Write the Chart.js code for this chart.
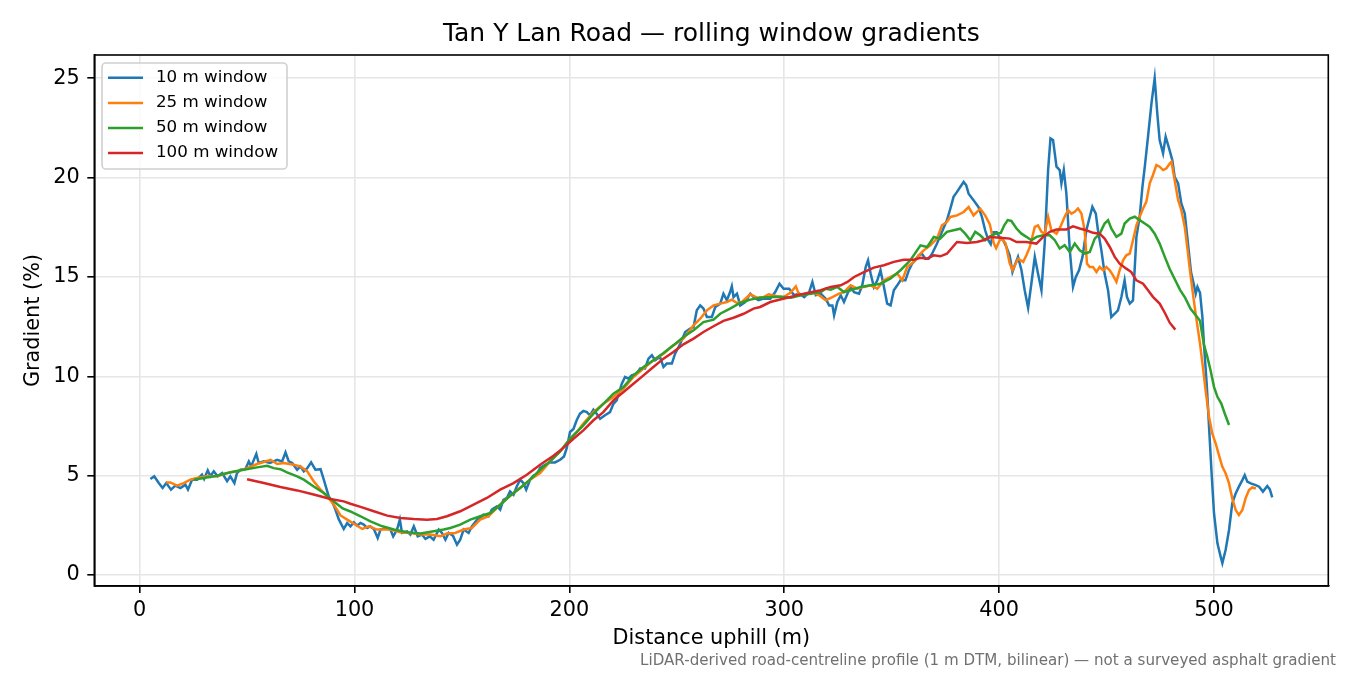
<!DOCTYPE html>
<html>
<head>
<meta charset="utf-8">
<title>Tan Y Lan Road — rolling window gradients</title>
<script src="https://cdn.jsdelivr.net/npm/chart.js@4.4.1/dist/chart.umd.min.js"></script>
<style>
  html, body { margin: 0; padding: 0; background: #fff; }
  #wrap { width: 1350px; height: 675px; }
</style>
</head>
<body>
<div id="wrap"><canvas id="gradientChart" width="1350" height="675"></canvas></div>
<script>
// [distance uphill (m), gradient (%)]
const win10 = [
  [5,4.83],[6.8,4.97],[8.9,4.63],[10.7,4.38],[12.4,4.63],[14.6,4.3],[16.6,4.5],[19,4.38],[21.3,4.55],[22.5,4.3],
  [24.4,4.8],[26.7,4.8],[29,5.05],[30,4.83],[31.7,5.27],[32.9,4.97],[34.5,5.22],[36.3,4.97],[38.4,5.13],[40.7,4.72],
  [42.2,4.97],[44.1,4.63],[45.3,5.13],[46.9,5.3],[49.2,5.33],[50.8,5.72],[51.9,5.47],[54.3,6.1],[55.4,5.64],[57.8,5.72],
  [60.6,5.64],[62.4,5.72],[64,5.8],[66.3,5.72],[67.9,6.17],[69.4,5.72],[71,5.64],[73.3,5.3],[74.8,5.47],[76.4,5.22],
  [78,5.38],[79.8,5.67],[81.8,5.3],[84.2,5.33],[85.7,4.8],[88,3.96],[89.6,3.7],[91.1,3.3],[92.7,2.8],[95,2.32],
  [96.6,2.62],[98.1,2.45],[99.7,2.65],[101.2,2.49],[102.8,2.62],[104.3,2.54],[105.9,2.37],[107.4,2.45],[109,2.32],[110.8,1.87],
  [112.1,2.29],[114.4,2.37],[116.7,2.29],[118,1.95],[119.8,2.29],[121.1,2.79],[122.1,2.12],[124.5,2.2],[126,2.04],[127.6,2.45],
  [129.4,1.95],[131.4,2.04],[133,1.82],[135,1.95],[136.8,1.78],[139.2,2.29],[140.7,2.12],[142.3,1.78],[143.8,2.12],[145.8,1.98],
  [147.7,1.53],[149.2,1.78],[150.8,2.29],[153.1,2.12],[154.6,2.45],[157,2.79],[158.5,2.87],[160,3.04],[162.4,2.96],[163.9,3.29],
  [166.3,3.46],[167.8,3.29],[169.3,3.79],[170.9,3.88],[172.4,4.21],[174,4.04],[175.5,4.46],[177.1,4.8],[178.6,4.63],[179.9,4.3],
  [181.7,4.8],[183.3,5.0],[184.8,5.05],[186.4,5.39],[188.7,5.55],[191,5.67],[193.3,5.67],[195.7,5.8],[197.5,5.97],[198.8,6.4],
  [200.3,7.2],[201.9,7.35],[203.4,7.79],[204.9,8.12],[206.5,8.26],[208.1,8.2],[209.6,8.04],[211.2,8.32],[212.7,8.12],[214.3,7.87],
  [216.6,8.04],[218.9,8.2],[220.5,8.62],[222,8.79],[224.4,9.63],[225.9,9.97],[227.5,9.88],[229,10.05],[231.4,10.13],[232.9,10.39],
  [235.2,10.39],[236.8,10.89],[238.4,11.06],[239.9,10.81],[242.2,10.97],[243.8,10.47],[245.3,10.64],[247.7,10.64],[249.2,11.14],[251.6,11.64],
  [253.9,12.23],[256.2,12.4],[257.8,12.48],[259.3,13.32],[260.9,13.57],[262.4,13.41],[264,12.99],[266.3,12.99],[267.9,13.49],[270.2,13.66],
  [271.7,14.16],[273.3,13.83],[274.8,14.24],[275.6,14.53],[276.4,13.99],[278,14.16],[279.5,13.57],[281.8,13.74],[284.2,14.16],[285.7,13.99],
  [288,13.83],[290.4,13.91],[293.5,13.91],[295.8,14.24],[297.8,14.66],[299.7,14.41],[302.3,14.41],[304.6,14.08],[307,14.16],[309.3,13.99],
  [311.6,14.24],[313.1,14.75],[314.7,14.08],[317,14.16],[319.3,13.91],[320.9,13.57],[322.4,13.57],[323.2,13.07],[324.7,13.74],[326.3,14.08],
  [327.8,13.74],[329.4,14.16],[330.9,14.5],[332.5,14.24],[334.8,14.16],[336.3,14.58],[337.9,15.5],[339,15.84],[340.2,15.17],[341.7,14.5],
  [343.3,14.83],[344.8,15.34],[346.4,14.5],[347.9,13.66],[349.5,13.57],[351,14.33],[352.6,14.58],[354.1,14.83],[356.4,14.83],[358,15.34],
  [359.5,15.67],[361,15.84],[362.6,16.09],[364.1,16.17],[365.7,15.92],[367.2,15.92],[368.8,16.17],[371.1,16.68],[373.4,17.27],[375.7,17.85],
  [377.3,18.44],[378.8,19.03],[380.4,19.28],[381.9,19.53],[383.5,19.78],[384.7,19.61],[385.8,19.19],[388.1,18.86],[390.4,18.52],[392,18.02],
  [393.5,17.35],[395,16.85],[396.1,16.65],[397.3,17.25],[398.9,17.25],[400.4,16.95],[401.9,16.85],[403.4,16.51],[404.9,16.09],[406.2,15.25],
  [407.3,15.59],[408.8,16.01],[410.4,15.34],[411.9,14.33],[413.5,13.45],[415,14.66],[416.6,16.01],[418.1,15.17],[419.7,14.33],[421.2,16.68],
  [422.8,20.38],[423.9,21.97],[425.1,21.89],[426.7,20.55],[428.2,20.38],[429,19.71],[430.1,20.38],[431.3,19.2],[432.9,16.34],[434.4,14.5],
  [435.7,15.0],[437.2,15.34],[438.8,16.01],[440.6,17.35],[442.2,18.03],[443.4,18.53],[445,18.19],[446,17.35],[447.6,16.34],[449.1,15.17],
  [450.7,14.33],[452.2,12.98],[453.8,13.15],[455.3,13.32],[456.9,13.99],[458.4,14.83],[459.5,13.99],[460.8,13.66],[462.3,13.82],[463.9,17.02],
  [465.4,18.03],[466.7,19.54],[467.8,20.55],[469.3,22.06],[470.9,23.74],[472.4,25.0],[473.6,23.24],[474.7,21.89],[476.3,21.22],[477.5,22.06],
  [479.1,21.47],[480.6,20.88],[481.7,20.04],[483.3,19.71],[484.8,18.7],[486.4,18.19],[487.9,16.68],[489.3,15.25],[490.7,14.58],[491.5,14.16],
  [492.3,14.5],[493.5,14.2],[494.6,12.99],[495.3,11.65],[496.6,9.64],[497.7,7.46],[498.8,5.28],[500,3.11],[501.6,1.6],[503.1,0.93],
  [503.9,0.6],[505.4,1.26],[507,2.27],[508.5,3.61],[510.1,4.11],[511.6,4.45],[513.2,4.78],[514.3,5.03],[515.5,4.7],[517.1,4.61],
  [519.4,4.53],[521,4.45],[522.8,4.2],[524.8,4.48],[526,4.31],[527.1,3.91]
];

const win25 = [
  [12.4,4.66],[14.3,4.66],[17.4,4.5],[20.5,4.63],[23.6,4.8],[26.7,4.88],[31.4,4.97],[36,4.97],[40.7,5.13],[45.3,5.22],
  [50,5.38],[54.7,5.59],[57.8,5.69],[60.9,5.8],[64,5.59],[67,5.64],[71.7,5.55],[74.8,5.47],[78,5.22],[81,4.72],
  [84.2,4.3],[87.3,3.96],[90.4,3.54],[93.5,3.0],[96.6,2.79],[99.7,2.58],[103.6,2.32],[106.7,2.45],[110.5,2.29],[113.6,2.29],
  [116.7,2.29],[121.4,2.15],[126,2.12],[130.7,2.04],[135.3,2.04],[140,1.95],[143,2.09],[146.9,2.12],[150.8,2.29],[154.6,2.37],
  [158.5,2.79],[162.4,2.96],[166.3,3.38],[170.2,3.79],[174,4.13],[177.9,4.46],[181.7,4.8],[186.4,5.13],[191,5.72],[195.7,6.22],
  [200.3,6.85],[203.5,7.2],[206.5,7.62],[211.2,8.2],[215.8,8.62],[220.5,8.96],[225.2,9.38],[229.8,9.97],[234.5,10.39],[239.1,10.81],
  [243.8,11.14],[248.4,11.56],[253.1,11.9],[257.8,12.57],[260.9,12.9],[264,13.32],[267.1,13.57],[270.2,13.66],[273.3,13.74],[275.6,13.86],
  [278,13.69],[280.3,13.74],[284.2,14.13],[287.3,13.96],[290.4,13.99],[292.7,14.13],[296.6,14.03],[299.7,13.99],[302.8,14.2],[305.4,14.53],
  [307,14.08],[310,14.16],[313.1,14.24],[316.2,14.08],[319.3,13.83],[322.4,13.99],[325.5,14.16],[327.8,14.24],[330.9,14.58],[334,14.41],
  [337.1,14.5],[340.2,14.58],[343.3,14.41],[346.4,14.83],[349.5,15.0],[352.6,15.17],[354.9,14.83],[357.2,15.5],[360.3,15.76],[362.6,16.09],
  [364.9,16.34],[368,16.59],[371.1,16.93],[373.4,17.6],[375.7,17.77],[377.3,18.02],[380.4,18.1],[383.5,18.27],[385.8,18.52],[388.1,18.1],
  [391.2,18.44],[393.5,18.1],[395.7,17.65],[397.5,16.7],[398.6,16.45],[400.8,16.98],[403,16.7],[404.9,15.7],[406.2,15.34],[408.8,15.92],
  [411.2,15.76],[412.7,16.09],[414.3,16.51],[416.6,17.52],[418.1,17.6],[419.7,17.27],[421.2,17.18],[422.8,18.03],[424.3,17.35],[426.7,17.18],
  [428.5,17.52],[430.5,18.03],[432.1,18.36],[433.6,18.19],[435.2,18.28],[436.7,18.45],[438.3,18.19],[439.8,17.35],[440.9,15.67],[442.2,15.5],
  [443.7,15.5],[445.3,15.25],[446.8,15.5],[448.4,15.34],[449.9,15.5],[451.5,15.34],[453,15.08],[454.6,14.75],[456.1,15.34],[457.7,15.84],
  [459.2,16.09],[460.8,16.18],[462.3,16.85],[463.9,17.6],[465.4,18.03],[467,18.45],[468.5,18.78],[470.1,19.71],[471.6,20.13],[473.2,20.63],
  [474.7,20.55],[476.3,20.38],[477.8,20.46],[479.4,20.71],[480.2,20.8],[481.7,19.87],[483.3,18.87],[484.8,18.36],[486.4,17.52],[487.9,16.2],
  [488.8,15.34],[490.4,13.99],[491.9,12.82],[493.5,11.65],[495,10.31],[496.1,9.3],[497.7,7.96],[499.2,7.13],[500.8,6.62],[502.3,6.04],
  [503.9,5.45],[505.4,5.12],[507,4.61],[508.5,3.86],[510.1,3.27],[511.6,3.02],[513.2,3.27],[514.7,3.86],[516.3,4.28],[517.8,4.41],
  [519.5,4.36]
];

const win50 = [
  [25.2,4.8],[29.8,4.88],[36,5.0],[42.2,5.17],[48.4,5.3],[54.7,5.42],[59.3,5.5],[62.4,5.38],[65.5,5.33],[68.6,5.17],
  [73.3,4.97],[76.4,4.8],[81,4.46],[85.7,4.13],[90.4,3.7],[94.5,3.35],[98.1,3.2],[102.8,2.96],[107.4,2.7],[112.1,2.49],
  [118.3,2.29],[124.5,2.15],[130.7,2.09],[136.8,2.2],[141.5,2.29],[144.6,2.37],[149.2,2.54],[153.9,2.79],[158.5,2.96],[163.2,3.12],
  [167.8,3.54],[172.4,3.99],[177.1,4.38],[181.7,4.8],[186.4,5.3],[191,5.72],[195.7,6.22],[200.3,6.85],[206.5,7.53],[211.2,8.12],
  [215.8,8.62],[220.5,9.13],[225.2,9.46],[229.8,10.05],[234.5,10.47],[239.1,10.81],[243.8,11.17],[248.4,11.56],[253.1,11.98],[257.8,12.32],
  [262.4,12.73],[267.1,12.85],[270.2,13.15],[274.8,13.41],[279.5,13.69],[284.2,13.86],[288.8,13.96],[293.5,13.99],[298.1,14.0],[303.1,13.96],
  [307.7,14.08],[312.4,14.16],[317,14.24],[319.3,14.41],[321.6,14.36],[324.7,14.5],[327.8,14.24],[330.9,14.33],[335.5,14.5],[340.2,14.58],
  [344.8,14.66],[349.5,14.92],[354.1,15.34],[358.7,15.84],[363.4,16.59],[366.5,16.51],[369.6,17.01],[372.6,16.93],[375.7,17.27],[378.8,17.35],
  [381.9,17.43],[384.2,17.18],[386.6,16.85],[388.9,17.27],[391.2,17.1],[393.5,16.85],[395.8,17.05],[398.5,17.18],[400.8,17.22],[402.4,17.6],
  [404,17.86],[405.7,17.82],[408.1,17.44],[410.4,17.18],[412.7,17.02],[415,16.85],[417.4,17.02],[420.5,17.1],[423.6,17.1],[425.9,16.85],
  [428.2,16.43],[430.5,16.6],[432.9,16.26],[435.2,16.68],[437.5,16.34],[439.8,16.18],[442.2,16.26],[444.5,16.93],[446.8,17.18],[449.1,17.69],
  [450.7,17.86],[452.2,17.44],[454.6,17.02],[456.9,17.18],[458.4,17.69],[460.8,17.94],[463.1,18.03],[465.4,17.86],[467.8,17.69],[470.1,17.52],
  [472.4,17.18],[474.7,16.68],[477.1,16.01],[479.4,15.4],[481.7,14.9],[484.2,14.35],[486.6,13.95],[489.1,13.4],[491.5,13.07],[493.5,12.8],
  [495.3,11.6],[496.9,10.98],[498.4,10.31],[500,9.47],[501.6,8.97],[503.4,8.63],[505,8.13],[507,7.55]
];

const win100 = [
  [50,4.82],[57.8,4.63],[65.5,4.43],[73.3,4.26],[81,4.05],[88.8,3.83],[95,3.71],[98.1,3.59],[102.8,3.43],[109,3.21],
  [115.2,2.99],[121.4,2.87],[127.6,2.82],[133.7,2.79],[138.4,2.82],[143,2.96],[149.2,3.21],[155.4,3.54],[161.6,3.88],[167.8,4.3],
  [174,4.63],[180.2,5.05],[186.4,5.55],[192.6,6.0],[197.2,6.4],[201.9,6.86],[206.5,7.28],[211.2,7.79],[215.8,8.2],[220.5,8.79],
  [225.2,9.21],[229.8,9.63],[234.5,10.05],[239.1,10.47],[243.8,10.89],[248.4,11.22],[253.1,11.61],[257.8,11.9],[262.4,12.23],[267.1,12.52],
  [271.7,12.79],[276.4,12.95],[281.1,13.15],[285.7,13.41],[288.8,13.49],[293.5,13.74],[298.1,13.87],[302.8,13.99],[306.7,14.1],[310.8,14.19],
  [317,14.33],[321.6,14.5],[326.3,14.58],[329.4,14.75],[332.5,15.0],[337.1,15.25],[341.7,15.47],[346.4,15.59],[351,15.76],[355.6,15.87],
  [360.3,15.87],[363.4,15.97],[366.5,15.92],[369.6,16.09],[372.6,16.04],[375.7,16.17],[380.4,16.76],[385,16.71],[389.6,16.76],[392.7,16.85],
  [395.8,17.01],[400.5,16.97],[405,16.93],[408.1,16.76],[412.7,16.76],[417.4,16.68],[420.5,17.02],[423.6,17.27],[426.7,17.39],[431.3,17.39],
  [434.4,17.55],[437.5,17.44],[440.6,17.35],[443.7,17.22],[446.8,17.18],[449.1,16.93],[451.5,16.51],[453.8,16.01],[456.1,15.67],[459.2,15.42],
  [461.5,15.25],[463.9,14.83],[467,14.66],[469.3,14.33],[471.6,14.0],[474.7,13.66],[477.1,13.2],[479.4,12.7],[482,12.35]
];

const seriesLabels = ['10 m window', '25 m window', '50 m window', '100 m window'];
const seriesColors = ['#1f77b4', '#ff7f0e', '#2ca02c', '#d62728'];
const xTicks = [0, 100, 200, 300, 400, 500];
const yTicks = [0, 5, 10, 15, 20, 25];
const chartTitle = 'Tan Y Lan Road \u2014 rolling window gradients';
const footnote = 'LiDAR-derived road-centreline profile (1 m DTM, bilinear) \u2014 not a surveyed asphalt gradient';

const FONT = "'DejaVu Sans', 'Liberation Sans', sans-serif";
Chart.defaults.font.family = FONT;
Chart.defaults.color = '#000';

function toPoints(pairs) {
    return pairs.map(p => ({ x: p[0], y: p[1] }));
}

// matplotlib-style frame round the plot area
const framePlugin = {
    id: 'frame',
    afterDatasetsDraw(chart) {
        const { ctx, chartArea: a } = chart;
        ctx.save();
        ctx.strokeStyle = '#000';
        ctx.lineWidth = 1.6;
        ctx.strokeRect(a.left, a.top, a.right - a.left, a.bottom - a.top);
        ctx.restore();
    }
};

// title centred over the plot area, as matplotlib does
const axesTitlePlugin = {
    id: 'axesTitle',
    afterDraw(chart) {
        const { ctx, chartArea: a } = chart;
        ctx.save();
        ctx.font = '25px ' + FONT;
        ctx.fillStyle = '#000';
        ctx.textAlign = 'center';
        ctx.textBaseline = 'middle';
        ctx.fillText(chartTitle, (a.left + a.right) / 2, 34);
        ctx.restore();
    }
};

// legend box in the upper left, drawn from the datasets
const boxLegendPlugin = {
    id: 'boxLegend',
    afterDraw(chart) {
        const ctx = chart.ctx;
        const x0 = 102, y0 = 63, w = 185, h = 106, r = 4;
        ctx.save();
        ctx.beginPath();
        ctx.roundRect(x0, y0, w, h, r);
        ctx.fillStyle = 'rgba(255,255,255,0.8)';
        ctx.fill();
        ctx.strokeStyle = '#d0d0d0';
        ctx.lineWidth = 1.6;
        ctx.stroke();
        ctx.font = '16.7px ' + FONT;
        ctx.textBaseline = 'middle';
        ctx.textAlign = 'left';
        chart.data.datasets.forEach((ds, i) => {
            const y = 77.8 + i * 25.1;
            ctx.beginPath();
            ctx.moveTo(108, y);
            ctx.lineTo(143, y);
            ctx.strokeStyle = ds.borderColor;
            ctx.lineWidth = 2.5;
            ctx.stroke();
            ctx.fillStyle = '#000';
            ctx.fillText(ds.label, 156, y);
        });
        ctx.restore();
    }
};

const footnotePlugin = {
    id: 'footnote',
    afterDraw(chart) {
        const ctx = chart.ctx;
        ctx.save();
        ctx.font = '15.1px ' + FONT;
        ctx.fillStyle = '#707070';
        ctx.textAlign = 'right';
        ctx.textBaseline = 'alphabetic';
        ctx.fillText(footnote, 1336, 665);
        ctx.restore();
    }
};

const allSeries = [win10, win25, win50, win100];
const datasets = allSeries.map((s, i) => ({
    label: seriesLabels[i],
    data: toPoints(s),
    borderColor: seriesColors[i],
    backgroundColor: seriesColors[i],
    borderWidth: 2.5,
    pointRadius: 0,
    tension: 0,
    fill: false,
    order: allSeries.length - 1 - i
}));

new Chart(document.getElementById('gradientChart'), {
    type: 'line',
    data: { datasets: datasets },
    options: {
        responsive: false,
        animation: false,
        devicePixelRatio: 1,
        layout: { padding: { left: 0, right: 21.7, top: 55, bottom: 0 } },
        plugins: {
            legend: { display: false },
            tooltip: { enabled: false },
            title: { display: false }
        },
        scales: {
            x: {
                type: 'linear',
                min: -21.1,
                max: 553.2,
                afterFit: s => { s.height = 89; },
                afterBuildTicks: s => { s.ticks = xTicks.map(v => ({ value: v })); },
                ticks: { font: { size: 20.8 }, color: '#000', padding: 5, maxRotation: 0 },
                grid: { color: '#e6e6e6', lineWidth: 1.6, tickColor: '#000', tickLength: 7, tickWidth: 1.6 },
                border: { display: true, color: '#000', width: 1.6 },
                title: {
                    display: true,
                    text: 'Distance uphill (m)',
                    font: { size: 20.8 },
                    color: '#000',
                    padding: { top: 0, bottom: 23.5 }
                }
            },
            y: {
                type: 'linear',
                min: -0.55,
                max: 26.17,
                afterFit: s => { s.width = 94.3; },
                afterBuildTicks: s => { s.ticks = yTicks.map(v => ({ value: v })); },
                ticks: { font: { size: 20.8 }, color: '#000', padding: 7.5 },
                grid: { color: '#e6e6e6', lineWidth: 1.6, tickColor: '#000', tickLength: 7, tickWidth: 1.6 },
                border: { display: true, color: '#000', width: 1.6 },
                title: {
                    display: true,
                    text: 'Gradient (%)',
                    font: { size: 20.8 },
                    color: '#000',
                    padding: { top: 21, bottom: 0 }
                }
            }
        }
    },
    plugins: [framePlugin, axesTitlePlugin, boxLegendPlugin, footnotePlugin]
});
</script>
</body>
</html>
